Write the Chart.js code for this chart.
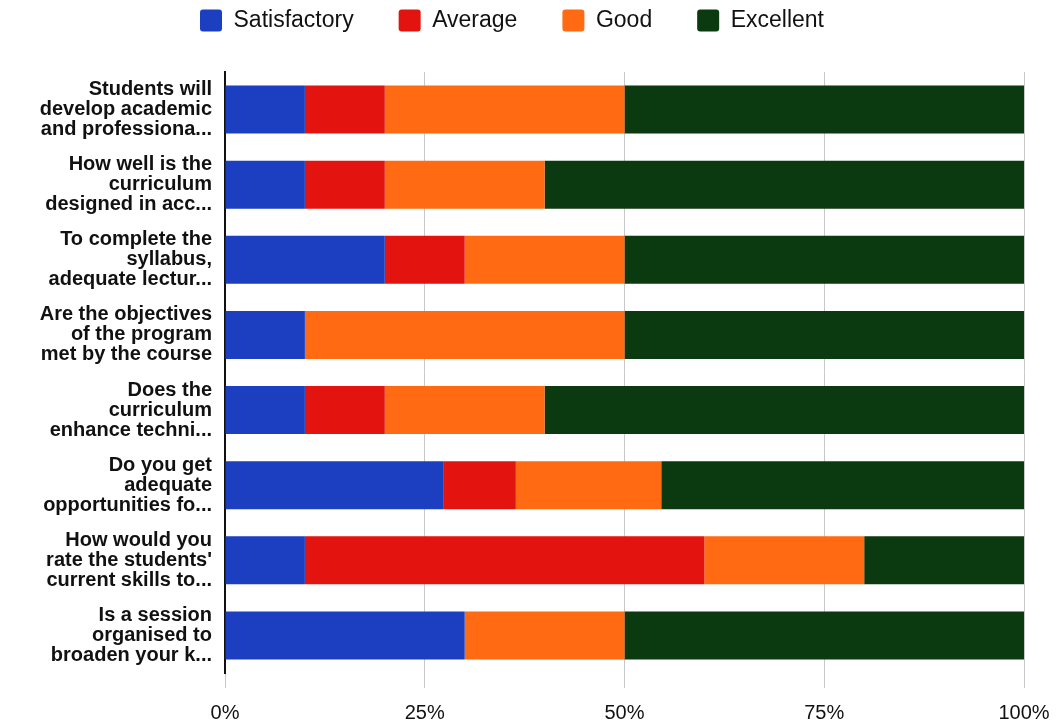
<!DOCTYPE html>
<html><head><meta charset="utf-8">
<script src="https://cdn.jsdelivr.net/npm/chart.js@4"></script>
<style>html,body{margin:0;padding:0;background:#fff}#wrap{width:1064px;height:724px}</style>
</head><body><div id="wrap"><canvas id="c" width="1064" height="724"></canvas></div>
<script>
const categories = [
  ["Students will","develop academic","and professiona..."],
  ["How well is the","curriculum","designed in acc..."],
  ["To complete the","syllabus,","adequate lectur..."],
  ["Are the objectives","of the program","met by the course"],
  ["Does the","curriculum","enhance techni..."],
  ["Do you get","adequate","opportunities fo..."],
  ["How would you","rate the students'","current skills to..."],
  ["Is a session","organised to","broaden your k..."]
];
const seriesNames = ["Satisfactory","Average","Good","Excellent"];
const satisfactory = [10,10,20,10,10,27.3,10,30];
const average      = [10,10,10,0,10,9.1,50,0];
const good         = [30,20,20,40,20,18.2,20,20];
const excellent    = [50,60,50,50,60,45.4,20,50];
const tickLabels = ["0%","25%","50%","75%","100%"];
const colors = ["#1c3fc2","#e3140f","#ff6a12","#0b3a10"];

const fam = "'Liberation Sans', Arial, sans-serif";
const LAYOUT_TOP = -36;
const legendHeightPlugin = {
  id:'legendHeight',
  beforeInit(chart){
    const lg = chart.legend;
    if(!lg) return;
    const orig = lg.fit.bind(lg);
    lg.fit = function(){ orig(); this.height = 72 - LAYOUT_TOP; };
  }
};
const data = {
  labels: categories,
  datasets: [satisfactory, average, good, excellent].map((d,i)=>({
    label: seriesNames[i], data: d, backgroundColor: colors[i], borderWidth:0,
    barPercentage:0.64, categoryPercentage:1
  }))
};
new Chart(document.getElementById('c'), {
  type:'bar', data,
  plugins:[legendHeightPlugin],
  options:{
    indexAxis:'y', responsive:false, animation:false,
    layout:{padding:{left:0,right:40,top:LAYOUT_TOP,bottom:-14}},
    plugins:{
      legend:{position:'top', labels:{font:{family:fam,size:23}, color:'#111', boxWidth:22, boxHeight:22, padding:45, useBorderRadius:true, borderRadius:3}},
      tooltip:{enabled:false}
    },
    scales:{
      x:{stacked:true, min:0, max:100,
        ticks:{stepSize:25, color:'#111', font:{family:fam,size:20}, padding:13, callback:(v)=>tickLabels[v/25]},
        grid:{color:'#c8c8c8', tickLength:15, drawOnChartArea:true},
        border:{display:false}},
      y:{stacked:true,
        ticks:{color:'#111', font:{family:fam,size:20,weight:'bold',lineHeight:1.0}, padding:13, autoSkip:false},
        grid:{display:false, drawTicks:false},
        border:{display:true, color:'#111', width:2},
        afterFit:(s)=>{s.width=225;}}
    }
  }
});
</script></body></html>
